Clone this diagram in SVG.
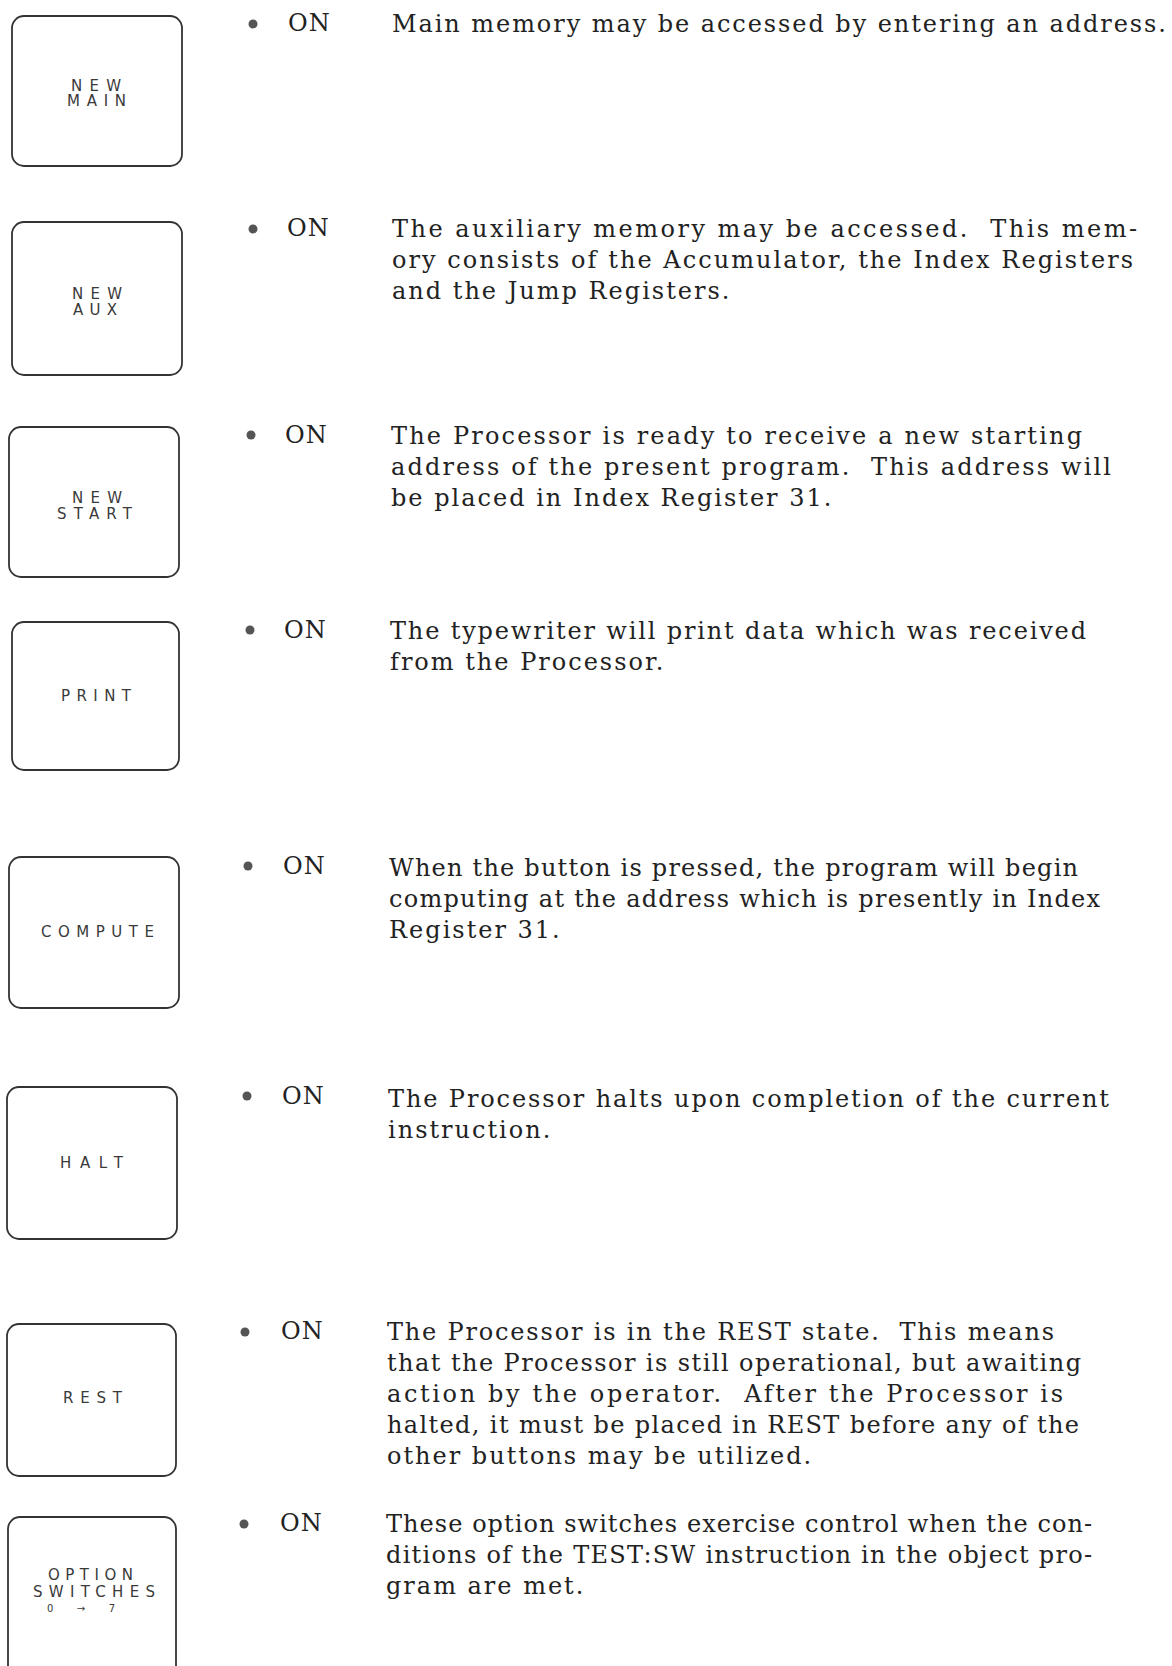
<svg xmlns="http://www.w3.org/2000/svg" width="1172" height="1666" viewBox="0 0 1172 1666">
<style>
.btn{fill:#fff;stroke:#333;stroke-width:1.8}
.lbl{font-family:"DejaVu Sans",sans-serif;font-size:15px;fill:#3a3a3a}
.sm{font-family:"DejaVu Sans",sans-serif;font-size:10px;fill:#3a3a3a}
.on{font-family:"DejaVu Serif",serif;font-size:24px;fill:#222;letter-spacing:1px}
.txt{font-family:"DejaVu Serif",serif;font-size:24px;fill:#222;letter-spacing:2px}
.dot{fill:#555}
</style>
<rect width="1172" height="1666" fill="#fff"/>

<g id="new-main">
<rect class="btn" x="12" y="16" width="170" height="150" rx="12"/>
<text class="lbl" x="71" y="91" textLength="50" lengthAdjust="spacing">NEW</text>
<text class="lbl" x="67" y="106" textLength="59" lengthAdjust="spacing">MAIN</text>
<circle class="dot" cx="253" cy="24" r="4.5"/>
<text class="on" x="288" y="31">ON</text>
<text class="txt" x="392" y="32" textLength="776" lengthAdjust="spacing">Main memory may be accessed by entering an address.</text>
</g>

<g id="new-aux">
<rect class="btn" x="12" y="222" width="170" height="153" rx="12"/>
<text class="lbl" x="72" y="299" textLength="50" lengthAdjust="spacing">NEW</text>
<text class="lbl" x="73" y="315" textLength="44" lengthAdjust="spacing">AUX</text>
<circle class="dot" cx="253" cy="229" r="4.5"/>
<text class="on" x="287" y="236">ON</text>
<text class="txt" x="392" y="237" textLength="747" lengthAdjust="spacing">The auxiliary memory may be accessed.&#160; This mem-</text>
<text class="txt" x="392" y="268" textLength="743" lengthAdjust="spacing">ory consists of the Accumulator, the Index Registers</text>
<text class="txt" x="392" y="299">and the Jump Registers.</text>
</g>

<g id="new-start">
<rect class="btn" x="9" y="427" width="170" height="150" rx="12"/>
<text class="lbl" x="72" y="503" textLength="50" lengthAdjust="spacing">NEW</text>
<text class="lbl" x="57" y="519" textLength="75" lengthAdjust="spacing">START</text>
<circle class="dot" cx="251" cy="435" r="4.5"/>
<text class="on" x="285" y="443">ON</text>
<text class="txt" x="391" y="444" textLength="693" lengthAdjust="spacing">The Processor is ready to receive a new starting</text>
<text class="txt" x="391" y="475" textLength="722" lengthAdjust="spacing">address of the present program.&#160; This address will</text>
<text class="txt" x="391" y="506">be placed in Index Register 31.</text>
</g>

<g id="print">
<rect class="btn" x="12" y="622" width="167" height="148" rx="12"/>
<text class="lbl" x="61" y="701" textLength="70" lengthAdjust="spacing">PRINT</text>
<circle class="dot" cx="250" cy="630" r="4.5"/>
<text class="on" x="284" y="638">ON</text>
<text class="txt" x="390" y="639" textLength="698" lengthAdjust="spacing">The typewriter will print data which was received</text>
<text class="txt" x="390" y="670">from the Processor.</text>
</g>

<g id="compute">
<rect class="btn" x="9" y="857" width="170" height="151" rx="12"/>
<text class="lbl" x="41" y="937" textLength="113" lengthAdjust="spacing">COMPUTE</text>
<circle class="dot" cx="248" cy="866" r="4.5"/>
<text class="on" x="283" y="874">ON</text>
<text class="txt" x="389" y="876" textLength="691" lengthAdjust="spacing">When the button is pressed, the program will begin</text>
<text class="txt" x="389" y="907" textLength="713" lengthAdjust="spacing">computing at the address which is presently in Index</text>
<text class="txt" x="389" y="938">Register 31.</text>
</g>

<g id="halt">
<rect class="btn" x="7" y="1087" width="170" height="152" rx="12"/>
<text class="lbl" x="60" y="1168" textLength="63" lengthAdjust="spacing">HALT</text>
<circle class="dot" cx="247" cy="1096" r="4.5"/>
<text class="on" x="282" y="1104">ON</text>
<text class="txt" x="388" y="1107" textLength="723" lengthAdjust="spacing">The Processor halts upon completion of the current</text>
<text class="txt" x="388" y="1138">instruction.</text>
</g>

<g id="rest">
<rect class="btn" x="7" y="1324" width="169" height="152" rx="12"/>
<text class="lbl" x="63" y="1403" textLength="59" lengthAdjust="spacing">REST</text>
<circle class="dot" cx="245" cy="1332" r="4.5"/>
<text class="on" x="281" y="1339">ON</text>
<text class="txt" x="387" y="1340" textLength="669" lengthAdjust="spacing">The Processor is in the REST state.&#160; This means</text>
<text class="txt" x="387" y="1371" textLength="696" lengthAdjust="spacing">that the Processor is still operational, but awaiting</text>
<text class="txt" x="387" y="1402" textLength="678" lengthAdjust="spacing">action by the operator.&#160; After the Processor is</text>
<text class="txt" x="387" y="1433" textLength="694" lengthAdjust="spacing">halted, it must be placed in REST before any of the</text>
<text class="txt" x="387" y="1464">other buttons may be utilized.</text>
</g>

<g id="option-switches">
<rect class="btn" x="8" y="1517" width="168" height="170" rx="12"/>
<text class="lbl" x="48" y="1580" textLength="85" lengthAdjust="spacing">OPTION</text>
<text class="lbl" x="33" y="1597" textLength="122" lengthAdjust="spacing">SWITCHES</text>
<text class="sm" x="47" y="1612" textLength="68" lengthAdjust="spacing">0 → 7</text>
<circle class="dot" cx="244" cy="1524" r="4.5"/>
<text class="on" x="280" y="1531">ON</text>
<text class="txt" x="386" y="1532" textLength="708" lengthAdjust="spacing">These option switches exercise control when the con-</text>
<text class="txt" x="386" y="1563" textLength="708" lengthAdjust="spacing">ditions of the TEST:SW instruction in the object pro-</text>
<text class="txt" x="386" y="1594">gram are met.</text>
</g>
</svg>
